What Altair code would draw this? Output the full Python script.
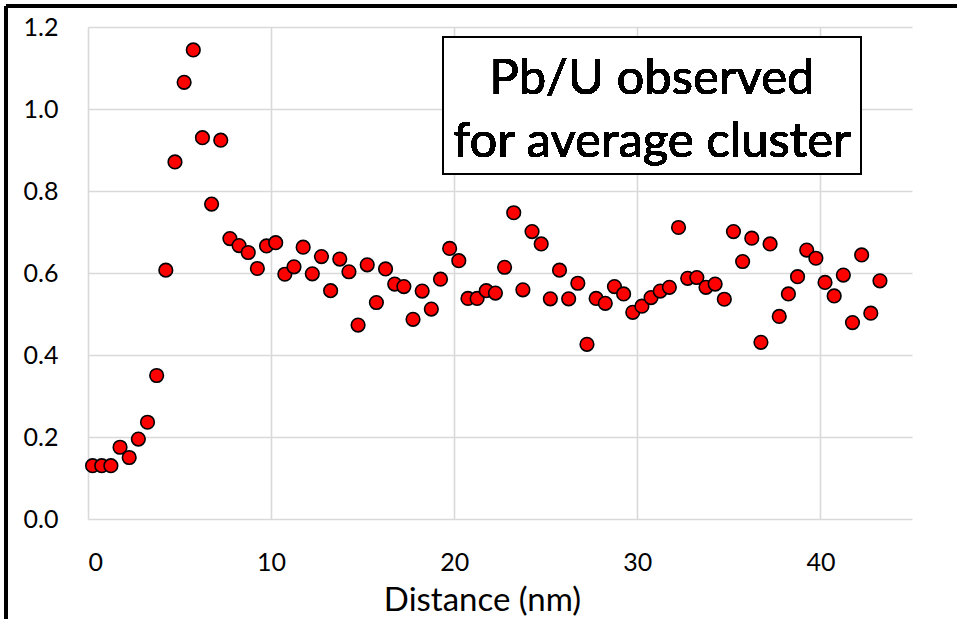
import altair as alt
import pandas as pd

distance_nm = [0.25, 0.75, 1.25, 1.75, 2.25, 2.75, 3.25, 3.75, 4.25, 4.75,
               5.25, 5.75, 6.25, 6.75, 7.25, 7.75, 8.25, 8.75, 9.25, 9.75,
               10.25, 10.75, 11.25, 11.75, 12.25, 12.75, 13.25, 13.75, 14.25, 14.75,
               15.25, 15.75, 16.25, 16.75, 17.25, 17.75, 18.25, 18.75, 19.25, 19.75,
               20.25, 20.75, 21.25, 21.75, 22.25, 22.75, 23.25, 23.75, 24.25, 24.75,
               25.25, 25.75, 26.25, 26.75, 27.25, 27.75, 28.25, 28.75, 29.25, 29.75,
               30.25, 30.75, 31.25, 31.75, 32.25, 32.75, 33.25, 33.75, 34.25, 34.75,
               35.25, 35.75, 36.25, 36.75, 37.25, 37.75, 38.25, 38.75, 39.25, 39.75,
               40.25, 40.75, 41.25, 41.75, 42.25, 42.75, 43.25]

pb_u_ratio = [0.130, 0.130, 0.130, 0.175, 0.150, 0.195, 0.236, 0.350, 0.607, 0.871,
              1.065, 1.144, 0.930, 0.768, 0.924, 0.684, 0.667, 0.650, 0.611, 0.666,
              0.674, 0.597, 0.615, 0.663, 0.598, 0.640, 0.557, 0.634, 0.603, 0.473,
              0.620, 0.528, 0.610, 0.573, 0.567, 0.487, 0.556, 0.512, 0.585, 0.660,
              0.630, 0.538, 0.538, 0.557, 0.551, 0.614, 0.747, 0.559, 0.701, 0.671,
              0.537, 0.607, 0.537, 0.575, 0.426, 0.538, 0.526, 0.567, 0.549, 0.504,
              0.519, 0.540, 0.556, 0.565, 0.711, 0.587, 0.589, 0.565, 0.573, 0.536,
              0.701, 0.628, 0.685, 0.431, 0.671, 0.494, 0.549, 0.591, 0.656, 0.636,
              0.577, 0.544, 0.595, 0.479, 0.644, 0.502, 0.581]

x_ticks = [0, 10, 20, 30, 40]
y_ticks = [0.0, 0.2, 0.4, 0.6, 0.8, 1.0, 1.2]
annotation_lines = ["Pb/U observed", "for average cluster"]
x_title = "Distance (nm)"

FONT = "Lato"

df = pd.DataFrame({"distance": distance_nm, "ratio": pb_u_ratio})

points = alt.Chart(df).mark_point(
    shape="circle", filled=True, fill="#FF0000", stroke="#000000",
    strokeWidth=1.6, size=185, opacity=1
).encode(
    x=alt.X("distance:Q",
            scale=alt.Scale(domain=[0, 45], nice=False, zero=False),
            axis=alt.Axis(values=x_ticks, title=x_title, format="d",
                          grid=True, gridColor="#d9d9d9", gridWidth=1.6,
                          domain=False, ticks=False, tickSize=0,
                          labelPadding=43, labelBaseline="middle",
                          labelFont=FONT, labelFontSize=25, labelColor="#000000",
                          titleFont=FONT, titleFontSize=33, titleFontWeight="normal",
                          titleColor="#000000", titleX=394, titleY=81,
                          titleBaseline="middle")),
    y=alt.Y("ratio:Q",
            scale=alt.Scale(domain=[0, 1.2], nice=False),
            axis=alt.Axis(values=y_ticks, title=None, format=".1f",
                          grid=True, gridColor="#d9d9d9", gridWidth=1.6,
                          domain=False, ticks=False, tickSize=0,
                          labelPadding=30, labelFont=FONT, labelFontSize=25,
                          labelColor="#000000"))
)

box = alt.Chart(df).mark_rect(fill="white", stroke="black", strokeWidth=2).encode(
    x=alt.value(355), x2=alt.value(773), y=alt.value(10), y2=alt.value(147)
)

line1 = alt.Chart(df).mark_text(
    font=FONT, fontSize=49, fontWeight="normal", color="black", strokeWidth=0,
    align="center", baseline="middle", text=annotation_lines[0]
).encode(x=alt.value(564), y=alt.value(52))

line2 = alt.Chart(df).mark_text(
    font=FONT, fontSize=49, fontWeight="normal", color="black", strokeWidth=0,
    align="center", baseline="middle", text=annotation_lines[1]
).encode(x=alt.value(564), y=alt.value(115))

frame_top = alt.Chart(df).mark_rule(color="black", strokeWidth=3).encode(
    x=alt.value(-82), x2=alt.value(869), y=alt.value(-21)
)
frame_left = alt.Chart(df).mark_rule(color="black", strokeWidth=3).encode(
    x=alt.value(-82), y=alt.value(-21), y2=alt.value(592)
)

chart = alt.layer(points, box, line1, line2, frame_top, frame_left).properties(
    width=824, height=492,
    padding={"left": 88, "top": 27, "right": 45, "bottom": 100},
    autosize=alt.AutoSizeParams(type="none"),
    background="white"
).configure_view(stroke=None)

chart.save("out.html", embed_options={"renderer": "svg", "actions": False})
